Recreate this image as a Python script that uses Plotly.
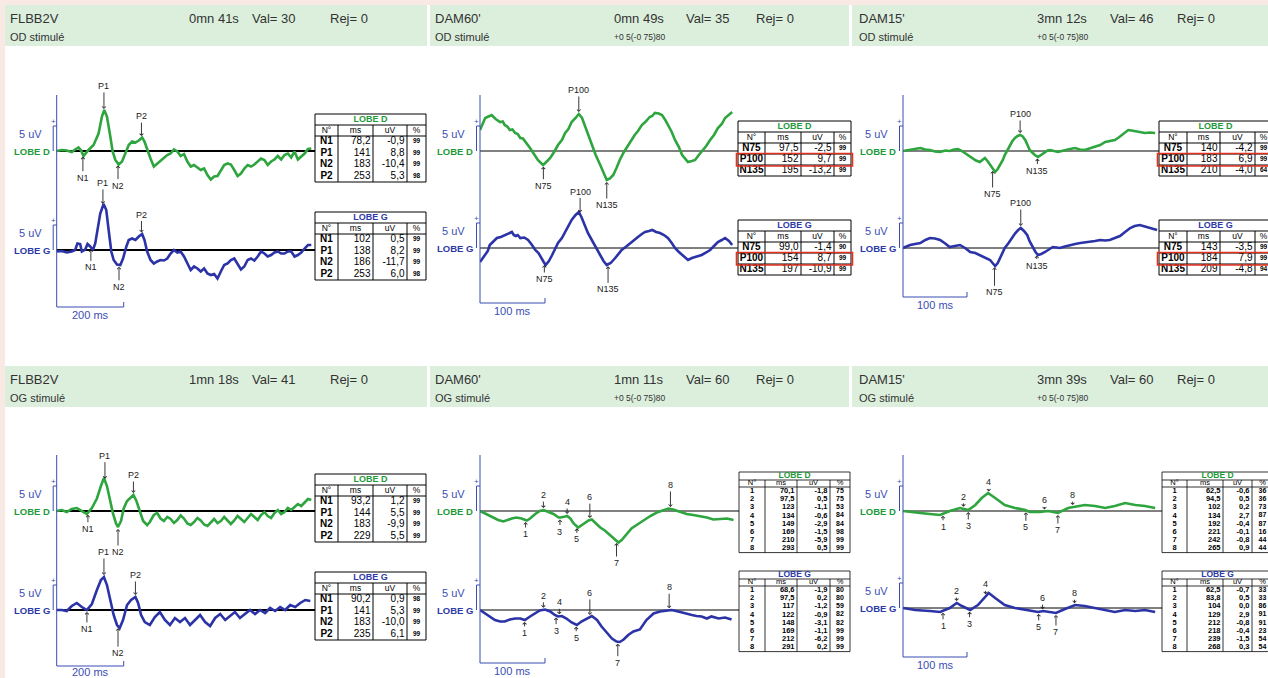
import numpy as np
import plotly.graph_objects as go

FIG_W, FIG_H = 1268, 678

# ---------------- DATA: panel headers ----------------
hdr_protocol = ["FLBB2V", "DAM60'", "DAM15'", "FLBB2V", "DAM60'", "DAM15'"]
hdr_duration = ["0mn 41s", "0mn 49s", "3mn 12s", "1mn 18s", "1mn 11s", "3mn 39s"]
hdr_val = [30, 35, 46, 41, 60, 60]
hdr_rej = [0, 0, 0, 0, 0, 0]
hdr_eye = ["OD stimulé", "OD stimulé", "OD stimulé", "OG stimulé", "OG stimulé", "OG stimulé"]
hdr_code = ["", "+0 5(-0 75)80", "+0 5(-0 75)80", "", "+0 5(-0 75)80", "+0 5(-0 75)80"]
time_scale_ms = [200, 100, 100, 200, 100, 100]
amp_scale_uv = 5

# ---------------- DATA: waveforms (latency ms, amplitude uV) ----------------
p1_d = [(0,0),(15,0.2),(30,0.1),(45,-0.2),(55,0.3),(65,0.7),(72,0.2),(80,-1.0),(95,0.2),(110,1.2),(125,3.5),(135,6.9),(142,8.2),(150,6.9),(160,2.9),(167,-0.1),(175,-1.8),(185,-2.7),(195,-2.1),(205,-0.5),(215,1.2),(225,1.9),(235,1.7),(245,2.1),(255,2.7),(262,1.9),(270,0.2),(280,-1.5),(290,-3.1),(300,-2.5),(310,-1.8),(320,-1.3),(330,-0.8),(340,-0.5),(350,0.3),(360,-0.1),(370,-1.0),(380,-0.6),(390,-2.1),(400,-3.1),(410,-2.8),(420,-3.3),(430,-3.8),(440,-3.5),(450,-4.8),(460,-5.7),(470,-5.1),(480,-5.0),(490,-3.8),(500,-2.8),(510,-2.5),(520,-2.7),(530,-3.8),(540,-5.0),(550,-4.5),(560,-3.5),(570,-2.8),(580,-3.1),(590,-2.7),(600,-2.1),(610,-1.5),(620,-1.8),(630,-2.8),(640,-2.1),(650,-1.7),(660,-1.0),(670,-1.7),(680,-0.8),(690,-0.5),(700,-1.3),(710,-0.1),(720,-1.7),(730,-1.1),(740,-0.5),(750,0.4),(760,0.5)]
p1_g = [(0,-0.3),(15,-0.2),(30,-0.5),(45,-0.3),(55,0),(62,1.3),(70,1.2),(75,-0.3),(85,0.1),(92,1.2),(100,0.7),(108,0),(115,1.3),(122,4.0),(130,7.3),(140,9.2),(148,8.0),(155,4.0),(163,-0.3),(170,-2.0),(180,-2.9),(190,-3.0),(198,-1.7),(208,0.7),(215,2.0),(225,2.3),(235,2.0),(245,2.7),(255,3.2),(262,2.0),(270,-0.3),(280,-2.0),(290,-2.7),(300,-2.3),(310,-2.0),(320,-2.1),(330,-1.7),(340,-0.7),(350,0),(360,-0.5),(370,-0.3),(380,-1.3),(390,-2.7),(400,-4.0),(410,-3.3),(420,-3.7),(430,-4.3),(440,-3.7),(450,-4.7),(460,-5.0),(470,-4.8),(480,-5.7),(490,-4.3),(500,-3.0),(510,-2.7),(520,-2.0),(530,-1.7),(540,-2.7),(550,-3.9),(560,-3.3),(570,-2.0),(580,-1.7),(590,-2.1),(600,-1.3),(610,-0.3),(620,-0.7),(630,-1.3),(640,-1.0),(650,-0.5),(660,-0.3),(670,-0.7),(680,-0.7),(690,-0.3),(700,-0.3),(710,-1.3),(720,-1.0),(730,-0.5),(740,0.3),(750,1.0),(760,1.0)]
p2_d = [(0,4.2),(4,5.6),(8,6.6),(13,6.9),(18,7.2),(24,6.4),(31,5.8),(35,5.9),(38,5.2),(42,4.9),(46,4.2),(50,4.3),(54,3.6),(58,3.4),(62,2.6),(66,2.5),(70,1.8),(74,1.3),(77,0.6),(83,-0.6),(89,-1.8),(93,-2.3),(97,-2.8),(102,-2.2),(108,-1.4),(114,-0.2),(120,1.2),(126,2.2),(131,3.6),(136,4.4),(141,5.8),(147,6.6),(152,7.4),(157,6.6),(161,5.2),(166,3.4),(172,1.2),(178,-0.8),(185,-2.8),(190,-4.4),(195,-5.8),(200,-5.5),(205,-4.8),(210,-3.4),(215,-1.8),(221,-0.3),(228,1.2),(233,2.1),(238,3.2),(243,4.0),(249,5.2),(255,5.9),(261,6.8),(265,7.0),(269,7.6),(275,7.5),(280,7.2),(285,6.2),(289,5.2),(295,3.8),(300,2.2),(306,0.8),(311,-0.8),(316,-1.6),(320,-2.2),(326,-2.0),(331,-1.8),(336,-0.9),(341,-0.2),(348,1.0),(354,2.2),(360,3.2),(366,4.6),(372,5.4),(377,6.6),(383,7.2),(388,7.8)]
p2_g = [(0,-2.8),(4,-2.0),(8,-1.4),(12,-0.6),(15,0.6),(20,1.2),(26,2.0),(32,2.2),(38,2.6),(44,2.9),(49,3.2),(52,2.6),(55,2.4),(58,2.6),(62,2.0),(68,2.1),(74,1.6),(80,0.6),(85,-0.4),(90,-1.0),(94,-2.0),(98,-2.8),(101,-3.4),(106,-2.6),(111,-1.4),(116,-0.2),(120,1.0),(126,2.0),(131,3.2),(136,4.2),(141,5.6),(147,6.6),(152,7.2),(156,6.2),(161,4.6),(166,3.0),(172,1.6),(178,0.2),(185,-1.4),(190,-2.6),(195,-3.4),(201,-3.0),(208,-2.0),(213,-1.2),(218,-0.4),(225,0.3),(231,1.0),(237,1.6),(243,2.2),(249,2.8),(254,3.2),(260,3.4),(265,3.6),(271,3.2),(277,3.0),(283,2.6),(289,2.0),(295,1.0),(300,0),(306,-0.8),(311,-1.4),(316,-2.0),(320,-2.4),(326,-2.0),(331,-1.8),(336,-1.7),(341,-1.4),(348,-0.9),(354,-0.4),(360,0.4),(366,1.2),(372,1.6),(377,2.0),(383,1.4),(388,0.6)]
p3_d = [(0,0),(11,0.2),(19,0.4),(27,0.6),(35,0.3),(42,0.2),(50,-0.1),(58,-0.2),(66,0.1),(73,0),(80,0.3),(86,0.4),(92,0.0),(97,-0.4),(103,-0.9),(108,-1.4),(114,-1.9),(120,-2.2),(124,-1.8),(128,-1.4),(132,-2.0),(136,-2.8),(140,-3.6),(144,-4.2),(148,-3.6),(152,-2.8),(156,-1.8),(159,-0.8),(163,0.2),(167,1.2),(171,2.0),(175,2.6),(179,3.0),(183,3.2),(187,2.9),(191,2.2),(195,1.2),(198,0.2),(202,-0.3),(206,-0.8),(211,-1.2),(216,-0.8),(222,-0.2),(226,0.1),(230,0.2),(236,0.0),(242,-0.2),(248,0.0),(253,0.2),(261,0.4),(269,0.6),(276,0.3),(284,0.2),(292,0.5),(300,0.8),(308,1.2),(316,1.8),(323,2.0),(331,2.2),(337,2.7),(342,3.2),(347,3.8),(352,4.2),(357,4.1),(363,4.0),(370,3.8),(378,3.6),(386,3.7),(394,3.6)]
p3_g = [(0,0),(6,0.3),(11,0.6),(19,0.8),(27,1.0),(35,1.6),(42,2.0),(50,1.9),(58,1.6),(66,0.9),(73,0.2),(81,0.4),(89,0.6),(97,0.0),(105,-0.8),(113,-1.0),(120,-1.4),(128,-1.8),(136,-2.4),(140,-3.0),(144,-3.6),(148,-3.0),(152,-2.0),(156,-1.0),(159,0),(165,1.0),(170,2.0),(175,2.9),(180,3.6),(184,4.0),(189,3.4),(194,2.6),(198,1.3),(203,0),(207,-0.8),(211,-1.4),(216,-1.2),(222,-0.8),(228,-0.3),(234,0.2),(240,0.1),(245,0),(253,0.3),(261,0.6),(269,0.8),(277,1.0),(285,1.1),(292,1.2),(300,1.4),(308,1.6),(316,1.5),(323,1.6),(331,2.0),(339,2.4),(347,3.2),(355,4.0),(362,4.4),(370,4.6),(378,4.3),(386,4.0),(397,3.6)]
p4_d = [(0,0),(15,0.2),(30,-0.2),(45,0.4),(60,0.6),(75,0),(90,-0.6),(105,0.6),(120,2.5),(132,5.0),(141,6.6),(150,5.0),(160,2.0),(168,-0.5),(177,-2.5),(183,-3.2),(192,-2.0),(200,0.5),(210,2.0),(220,2.6),(229,3.2),(238,2.0),(250,-0.5),(258,-2.0),(270,-2.8),(278,-2.2),(290,-0.8),(300,-0.4),(310,-1.5),(320,-2.0),(330,-1.2),(340,-1.6),(350,-2.4),(360,-1.8),(370,-0.9),(380,-1.5),(390,-2.5),(400,-2.8),(410,-2.2),(420,-1.4),(430,-1.9),(440,-2.7),(450,-3.0),(460,-2.2),(470,-1.6),(480,-2.4),(490,-2.0),(500,-1.2),(510,-1.8),(520,-2.6),(530,-1.9),(540,-1.0),(550,-1.6),(560,-2.2),(570,-1.4),(580,-0.6),(590,-1.2),(600,-1.8),(610,-0.8),(620,-0.2),(630,-1.0),(640,-1.4),(650,-0.4),(660,0.2),(670,-0.6),(680,-0.2),(690,0.6),(700,0.2),(710,0.8),(720,1.4),(730,1.0),(740,1.8),(750,2.4),(760,2.2)]
p4_g = [(0,0),(15,0),(30,-0.2),(45,0.8),(60,1.4),(75,0.6),(90,0),(105,1.2),(120,4.0),(132,6.0),(141,6.6),(150,5.0),(160,2.0),(170,-1.0),(180,-3.0),(188,-3.6),(198,-2.0),(210,1.0),(222,2.0),(235,2.6),(243,1.4),(252,-1.0),(263,-2.4),(278,-3.0),(293,-1.4),(308,-0.4),(323,-2.0),(338,-3.0),(353,-1.6),(368,-2.4),(383,-1.6),(398,-3.0),(413,-2.0),(428,-1.0),(443,-2.4),(458,-3.2),(473,-1.6),(488,-0.8),(503,-2.0),(517,-1.2),(532,-0.4),(547,-1.6),(562,-0.8),(577,0),(592,-0.8),(607,0),(622,-0.6),(637,0.4),(652,-0.2),(667,0.6),(682,0),(697,1.0),(712,0.6),(727,1.4),(742,2.0),(757,1.8)]
p5_d = [(0,0),(5,-0.3),(13,-0.8),(21,-1.3),(28,-1.8),(36,-2.1),(42,-1.8),(49,-1.5),(56,-1.3),(64,-1.5),(72,-1.9),(77,-1.5),(85,-0.6),(92,0),(98,0.2),(105,-0.1),(113,-0.6),(121,-1.3),(124,-1.3),(131,-1.1),(134,-1.0),(139,-1.5),(144,-2.5),(151,-3.3),(159,-2.6),(167,-1.9),(172,-1.7),(177,-2.3),(185,-3.3),(192,-3.9),(200,-4.8),(208,-5.8),(213,-6.3),(218,-5.8),(226,-4.5),(233,-3.5),(241,-2.8),(251,-1.9),(262,-1.0),(272,-0.3),(282,0.2),(290,0.5),(297,0.3),(308,-0.1),(318,-0.6),(328,-0.8),(339,-1.0),(349,-1.3),(359,-1.7),(369,-1.6),(380,-1.5),(390,-1.8)]
p5_g = [(0,0),(8,-0.7),(15,-1.3),(23,-2.0),(31,-2.3),(38,-2.3),(46,-1.9),(54,-1.7),(62,-1.7),(69,-2.0),(77,-1.3),(85,-0.7),(92,-0.1),(100,0.1),(108,-0.3),(115,-1.0),(120,-1.3),(126,-1.2),(133,-1.7),(141,-2.5),(149,-3.0),(156,-2.3),(164,-1.7),(172,-1.2),(180,-2.0),(187,-3.3),(195,-4.5),(203,-5.7),(210,-6.3),(215,-6.4),(221,-5.9),(228,-5.0),(236,-4.3),(246,-3.9),(256,-2.0),(267,-0.7),(277,-0.3),(287,-0.1),(295,0),(305,-0.3),(315,-0.7),(326,-1.0),(333,-1.2),(341,-1.3),(349,-1.7),(356,-1.3),(367,-1.7),(377,-1.5),(387,-1.9)]
p6_d = [(0,0),(11,-0.2),(27,-0.4),(42,-0.6),(58,-0.8),(73,0),(89,0.6),(102,0.2),(113,1.2),(123,2.6),(133,3.6),(144,2.6),(159,1.2),(175,0.6),(191,0.2),(198,-0.2),(214,-0.2),(227,0),(242,-0.4),(258,0.6),(266,0.8),(284,1.2),(300,1.0),(316,0.6),(331,1.0),(347,1.6),(363,1.2),(378,1.0),(394,0.6)]
p6_g = [(0,0),(19,-0.4),(42,-0.6),(58,-0.8),(73,0),(84,1.0),(92,0.4),(105,-0.4),(117,0.6),(128,2.2),(134,3.0),(144,2.0),(159,0.6),(175,0),(191,-0.4),(211,-0.8),(219,-0.6),(239,-1.0),(253,-0.2),(269,0.6),(284,0.4),(300,0),(316,-0.4),(331,-0.8),(347,-0.4),(363,-0.6),(378,-0.4),(394,-0.8)]

# ---------------- DATA: result tables ----------------
p1_d_peak = ["N1", "P1", "N2", "P2"]; p1_d_ms = [78.2, 141, 183, 253]; p1_d_uv = [-0.9, 8.8, -10.4, 5.3]; p1_d_pct = [99, 99, 99, 98]
p1_g_peak = ["N1", "P1", "N2", "P2"]; p1_g_ms = [102, 138, 186, 253]; p1_g_uv = [0.5, 8.2, -11.7, 6.0]; p1_g_pct = [99, 99, 99, 98]
p2_d_peak = ["N75", "P100", "N135"]; p2_d_ms = [97.5, 152, 195]; p2_d_uv = [-2.5, 9.7, -13.2]; p2_d_pct = [99, 99, 99]
p2_g_peak = ["N75", "P100", "N135"]; p2_g_ms = [99.0, 154, 197]; p2_g_uv = [-1.4, 8.7, -10.9]; p2_g_pct = [90, 99, 99]
p3_d_peak = ["N75", "P100", "N135"]; p3_d_ms = [140, 183, 210]; p3_d_uv = [-4.2, 6.9, -4.0]; p3_d_pct = [99, 99, 64]
p3_g_peak = ["N75", "P100", "N135"]; p3_g_ms = [143, 184, 209]; p3_g_uv = [-3.5, 7.9, -4.8]; p3_g_pct = [99, 99, 94]
p4_d_peak = ["N1", "P1", "N2", "P2"]; p4_d_ms = [93.2, 144, 183, 229]; p4_d_uv = [1.2, 5.5, -9.9, 5.5]; p4_d_pct = [99, 99, 99, 99]
p4_g_peak = ["N1", "P1", "N2", "P2"]; p4_g_ms = [90.2, 141, 183, 235]; p4_g_uv = [0.9, 5.3, -10.0, 6.1]; p4_g_pct = [98, 99, 99, 99]
p5_d_peak = ["1", "2", "3", "4", "5", "6", "7", "8"]; p5_d_ms = [70.1, 97.5, 123, 134, 149, 169, 210, 293]; p5_d_uv = [-1.8, 0.5, -1.1, -0.6, -2.9, -1.5, -5.9, 0.5]; p5_d_pct = [75, 75, 53, 84, 84, 98, 99, 99]
p5_g_peak = ["1", "2", "3", "4", "5", "6", "7", "8"]; p5_g_ms = [68.6, 97.5, 117, 122, 148, 169, 212, 291]; p5_g_uv = [-1.9, 0.2, -1.2, -0.9, -3.1, -1.1, -6.2, 0.2]; p5_g_pct = [80, 80, 59, 82, 82, 99, 99, 99]
p6_d_peak = ["1", "2", "3", "4", "5", "6", "7", "8"]; p6_d_ms = [62.5, 94.5, 102, 134, 192, 221, 242, 265]; p6_d_uv = [-0.6, 0.5, 0.2, 2.7, -0.4, -0.1, -0.8, 0.9]; p6_d_pct = [36, 36, 73, 87, 87, 16, 44, 44]
p6_g_peak = ["1", "2", "3", "4", "5", "6", "7", "8"]; p6_g_ms = [62.5, 83.8, 104, 129, 212, 218, 239, 268]; p6_g_uv = [-0.7, 0.5, 0.0, 2.9, -0.8, -0.4, -1.5, 0.3]; p6_g_pct = [33, 33, 86, 91, 91, 23, 54, 54]

waves = [(p1_d, p1_g), (p2_d, p2_g), (p3_d, p3_g), (p4_d, p4_g), (p5_d, p5_g), (p6_d, p6_g)]
tables = [
    ((p1_d_peak, p1_d_ms, p1_d_uv, p1_d_pct), (p1_g_peak, p1_g_ms, p1_g_uv, p1_g_pct)),
    ((p2_d_peak, p2_d_ms, p2_d_uv, p2_d_pct), (p2_g_peak, p2_g_ms, p2_g_uv, p2_g_pct)),
    ((p3_d_peak, p3_d_ms, p3_d_uv, p3_d_pct), (p3_g_peak, p3_g_ms, p3_g_uv, p3_g_pct)),
    ((p4_d_peak, p4_d_ms, p4_d_uv, p4_d_pct), (p4_g_peak, p4_g_ms, p4_g_uv, p4_g_pct)),
    ((p5_d_peak, p5_d_ms, p5_d_uv, p5_d_pct), (p5_g_peak, p5_g_ms, p5_g_uv, p5_g_pct)),
    ((p6_d_peak, p6_d_ms, p6_d_uv, p6_d_pct), (p6_g_peak, p6_g_ms, p6_g_uv, p6_g_pct)),
]

# ---------------- STYLE / LAYOUT ----------------
GREEN = "#2ea53e"
BLUE = "#2b33a6"
AXIS_BLUE = "#3b4db3"
LBL_GREEN = "#1f9a3a"
LBL_BLUE = "#2c3aa8"
PINK = "#f8e9e4"
HDR_GREEN = "#dcefdd"
FONT = "Liberation Sans, Arial, sans-serif"
NARROW = "Liberation Sans Narrow, Arial Narrow, Liberation Sans, Arial, sans-serif"
PX_PER_UV = 5.0

col_x0 = [56.7, 480.0, 903.0]
col_pxpm = [0.335, 0.65, 0.64]
baselines = [(151, 250), (151, 248), (151, 248), (511, 610), (511, 610), (511, 608)]
axis_top = [95, 95, 95, 455, 455, 455]
bar_py = [307, 303, 297, 666, 663, 657]
base_w = [2.2, 1, 1, 2.2, 1, 1]

tab_x = [315, 738, 1159, 315, 739, 1162]
tab_w = [111, 113, 113, 111, 111, 111]
tab_cols = [[0, 23, 58, 92, 111], [0, 27, 63, 96, 113], [0, 28, 61, 96, 113],
            [0, 23, 58, 92, 111], [0, 26, 58, 91, 111], [0, 25, 61, 90, 111]]
tab_tops = [(114, 212), (121, 220), (121, 220), (474, 572), (472, 571), (472, 571)]
tab_h = [(11, 11, 11.5), (11, 11, 11), (11, 11, 11), (11, 11, 11.5), (8, 7, 8.2), (8, 7, 8.2)]
tab_rowlines = [False, True, True, False, False, False]
tab_small = [False, False, False, False, True, True]

label_ay = [
    ([23, -25, 22, -22], [20, -23, 22, -20]),
    ([21, -24, 25], [16, -23, 25]),
    ([25, -21, 14], [27, -25, 12]),
    ([16, -25, 25, -20], [19, -25, 27, -22]),
    ([14, -15, 14, -14, 13, -23, 22, -24], [13, -14, 15, -14, 13, -24, 21, -23]),
    ([13, -12, 16, -11, 17, -11, 17, -12], [15, -12, 14, -12, 15, -13, 19, -12]),
]

hdr_cols_px = [(8, 187, 250, 328), (433, 612, 684, 754), (857, 1035, 1108, 1175)]
hdr_bar_x = [(5, 427), (430, 849), (852, 1268)]

fig = go.Figure()
shapes, annotations = [], []
axes_layout = {}
cnt = {"x": 0, "y": 0}


def clamp(v):
    return max(0.0, min(1.0, v))


def new_axis(kind, domain, rng):
    cnt[kind] += 1
    n = cnt[kind]
    key = f"{kind}axis" if n == 1 else f"{kind}axis{n}"
    axes_layout[key] = dict(domain=[clamp(domain[0]), clamp(domain[1])], range=rng, visible=False,
                            fixedrange=True, anchor="free", position=0, showgrid=False, zeroline=False)
    return kind if n == 1 else f"{kind}{n}"


def PX(px):
    return px / FIG_W


def PY(py):
    return 1 - py / FIG_H


def fmt_ms(v):
    return (f"{v:.1f}" if v < 100 else f"{v:.0f}").replace(".", ",")


def fmt_uv(v):
    return f"{v:.1f}".replace(".", ",")


# background frame
shapes.append(dict(type="rect", xref="paper", yref="paper", x0=0, x1=PX(5), y0=0, y1=1,
                   fillcolor=PINK, line=dict(width=0), layer="below"))
shapes.append(dict(type="rect", xref="paper", yref="paper", x0=0, x1=1, y0=PY(5), y1=1,
                   fillcolor=PINK, line=dict(width=0), layer="below"))

# headers
for i in range(6):
    c, r = i % 3, i // 3
    off = 361 * r
    bx0, bx1 = hdr_bar_x[c]
    shapes.append(dict(type="rect", xref="paper", yref="paper", x0=PX(bx0), x1=PX(bx1),
                       y0=PY(46 + off), y1=PY(5 + off), fillcolor=HDR_GREEN, line=dict(width=0), layer="below"))
    xs = hdr_cols_px[c]
    texts1 = [hdr_protocol[i], hdr_duration[i], f"Val= {hdr_val[i]}", f"Rej= {hdr_rej[i]}"]
    for xp, tx in zip(xs, texts1):
        annotations.append(dict(xref="paper", yref="paper", x=PX(xp), y=PY(18 + off), text=tx, showarrow=False,
                                xanchor="left", yanchor="middle", font=dict(family=FONT, size=13, color="#333")))
    annotations.append(dict(xref="paper", yref="paper", x=PX(xs[0]), y=PY(37 + off), text=hdr_eye[i], showarrow=False,
                            xanchor="left", yanchor="middle", font=dict(family=FONT, size=11, color="#333")))
    if hdr_code[i]:
        annotations.append(dict(xref="paper", yref="paper", x=PX(xs[1]), y=PY(37 + off), text=hdr_code[i],
                                showarrow=False, xanchor="left", yanchor="middle",
                                font=dict(family=FONT, size=8.5, color="#333")))

# waveform panels
for i in range(6):
    c, r = i % 3, i // 3
    roff = 360 * r
    x0 = col_x0[c]
    pxpm = col_pxpm[c]
    tabx = tab_x[i]
    xr = new_axis("x", [PX(x0), PX(tabx)], [0, (tabx - x0) / pxpm])
    bD, bG = baselines[i]
    top = roff + 58
    mid = bD + 0.45 * (bG - bD)
    bot = min(roff + 338, FIG_H)
    yD = new_axis("y", [PY(mid), PY(top)], [-(mid - bD) / PX_PER_UV, (bD - top) / PX_PER_UV])
    yG = new_axis("y", [PY(bot), PY(mid)], [-(bot - bG) / PX_PER_UV, (bG - mid) / PX_PER_UV])

    # vertical axis and time scale bar
    shapes.append(dict(type="line", xref="paper", yref="paper", x0=PX(x0), x1=PX(x0),
                       y0=PY(axis_top[i]), y1=PY(bar_py[i]), line=dict(color=AXIS_BLUE, width=1)))
    sc = time_scale_ms[i]
    shapes.append(dict(type="line", xref=xr, yref="paper", x0=0, x1=sc, y0=PY(bar_py[i]), y1=PY(bar_py[i]),
                       line=dict(color=AXIS_BLUE, width=1)))
    shapes.append(dict(type="line", xref=xr, yref="paper", x0=sc, x1=sc, y0=PY(bar_py[i]), y1=PY(bar_py[i] - 5),
                       line=dict(color=AXIS_BLUE, width=1)))
    txt_y = min(bar_py[i] + 8, FIG_H - 6)
    annotations.append(dict(xref=xr, yref="paper", x=sc / 2, y=PY(txt_y), text=f"{sc} ms", showarrow=False,
                            xanchor="center", yanchor="middle", font=dict(family=FONT, size=11, color=AXIS_BLUE)))

    for k, (pts, yr, col, lcol, lobe) in enumerate([(waves[i][0], yD, GREEN, LBL_GREEN, "LOBE D"),
                                                     (waves[i][1], yG, BLUE, LBL_BLUE, "LOBE G")]):
        t = [p[0] for p in pts]
        v = [p[1] for p in pts]
        shapes.append(dict(type="line", xref=f"{xr} domain", yref=yr, x0=0, x1=1, y0=0, y1=0,
                           line=dict(color="black", width=base_w[i]), layer="below"))
        fig.add_trace(go.Scatter(x=t, y=v, xaxis=xr, yaxis=yr, mode="lines",
                                 line=dict(color=col, width=2.6), hoverinfo="skip", showlegend=False))
        # amplitude bracket
        bx = PX(x0 - 3.5)
        shapes.append(dict(type="line", xref="paper", yref=yr, x0=bx, x1=bx, y0=0, y1=amp_scale_uv,
                           line=dict(color=AXIS_BLUE, width=1)))
        shapes.append(dict(type="line", xref="paper", yref=yr, x0=bx, x1=PX(x0), y0=amp_scale_uv, y1=amp_scale_uv,
                           line=dict(color=AXIS_BLUE, width=1)))
        annotations.append(dict(xref="paper", yref=yr, x=bx, y=amp_scale_uv, yshift=5, text="+", showarrow=False,
                                xanchor="center", yanchor="middle", font=dict(family=FONT, size=8, color=AXIS_BLUE)))
        annotations.append(dict(xref="paper", yref=yr, x=PX(x0 - 13), y=amp_scale_uv * 0.7, text=f"{amp_scale_uv} uV",
                                showarrow=False, xanchor="right", yanchor="middle",
                                font=dict(family=FONT, size=11, color=AXIS_BLUE)))
        annotations.append(dict(xref="paper", yref=yr, x=PX(x0 - 5), y=0, text=f"<b>{lobe}</b>", showarrow=False,
                                xanchor="right", yanchor="middle", font=dict(family=NARROW, size=9.5, color=lcol)))
        # peak markers from the table latencies
        peaks, mss = tables[i][k][0], tables[i][k][1]
        for name, ms, ay in zip(peaks, mss, label_ay[i][k]):
            yv = float(np.interp(ms, t, v))
            annotations.append(dict(xref=xr, yref=yr, x=ms, y=yv, text=name, showarrow=True, ax=0, ay=ay,
                                    arrowhead=4, arrowsize=0.8, arrowwidth=0.9, arrowcolor="#222", standoff=2,
                                    font=dict(family=FONT, size=9, color="#222")))

# tables
for i in range(6):
    for k, (title, tcol) in enumerate([("LOBE D", LBL_GREEN), ("LOBE G", LBL_BLUE)]):
        peaks, mss, uvs, pcts = tables[i][k]
        tx, ty = tab_x[i], tab_tops[i][k]
        W = tab_w[i]
        cb = tab_cols[i]
        th, hh, rh = tab_h[i]
        n = len(peaks)
        Ht = th + hh + n * rh
        pad = 3
        xhi = min(tx + W + pad, FIG_W)
        xr = new_axis("x", [PX(tx - pad), PX(xhi)], [-pad, xhi - tx])
        yr = new_axis("y", [PY(ty + Ht + pad), PY(ty - pad)], [Ht + pad, -pad])
        small = tab_small[i]
        lw = 0.8 if small else 1

        def L(**kw):
            shapes.append(dict(type="line", xref=xr, yref=yr, line=dict(color="black", width=lw), **kw))

        shapes.append(dict(type="rect", xref=xr, yref=yr, x0=0, x1=W, y0=0, y1=Ht,
                           line=dict(color="black", width=lw), fillcolor="white", layer="below"))
        L(x0=0, x1=W, y0=th, y1=th)
        L(x0=0, x1=W, y0=th + hh, y1=th + hh)
        for cx in cb[1:-1]:
            L(x0=cx, x1=cx, y0=th, y1=Ht)
        if tab_rowlines[i]:
            for j in range(1, n):
                yy = th + hh + j * rh
                L(x0=0, x1=W, y0=yy, y1=yy)
        for j, pk in enumerate(peaks):
            if pk == "P100":
                y0 = th + hh + j * rh
                shapes.append(dict(type="rect", xref=xr, yref=yr, x0=-1.5, x1=W + 1.5, y0=y0 - 0.5, y1=y0 + rh + 1,
                                   line=dict(color="#e2321f", width=1.6)))

        xs, ys, txt, pos, sizes, cols = [], [], [], [], [], []
        if small:
            fam = NARROW
            fs_title, fs_head, fs_lab, fs_num, fs_pct = 8.5, 7.5, 7.5, 7.5, 7
        else:
            fam = FONT
            fs_title, fs_head, fs_lab, fs_num, fs_pct = 9, 8.5, 10, 10, 6.5
        xs.append(W / 2); ys.append(th / 2); txt.append(f"<b>{title}</b>"); pos.append("middle center")
        sizes.append(fs_title); cols.append(tcol)
        for j, hd in enumerate(["N°", "ms", "uV", "%"]):
            xs.append((cb[j] + cb[j + 1]) / 2); ys.append(th + hh / 2); txt.append(hd); pos.append("middle center")
            sizes.append(fs_head); cols.append("black")
        for j in range(n):
            yc = th + hh + (j + 0.5) * rh
            num_b = (lambda s: f"<b>{s}</b>") if small else (lambda s: s)
            xs += [(cb[0] + cb[1]) / 2, cb[2] - 2.5, cb[3] - 2.5, (cb[3] + cb[4]) / 2]
            ys += [yc] * 4
            txt += [f"<b>{peaks[j]}</b>", num_b(fmt_ms(mss[j])), num_b(fmt_uv(uvs[j])), f"<b>{pcts[j]}</b>"]
            pos += ["middle center", "middle left", "middle left", "middle center"]
            sizes += [fs_lab, fs_num, fs_num, fs_pct]
            cols += ["black"] * 4
        fig.add_trace(go.Scatter(x=xs, y=ys, xaxis=xr, yaxis=yr, mode="text", text=txt, textposition=pos,
                                 textfont=dict(family=fam, size=sizes, color=cols), hoverinfo="skip",
                                 showlegend=False, cliponaxis=True))

fig.update_layout(
    width=FIG_W, height=FIG_H, autosize=False,
    margin=dict(l=0, r=0, t=0, b=0),
    paper_bgcolor="white", plot_bgcolor="rgba(0,0,0,0)",
    showlegend=False, hovermode=False,
    shapes=shapes, annotations=annotations,
    **axes_layout,
)
fig.write_html("out.html",
               config={"displayModeBar": False, "staticPlot": True},
               post_script="document.body.style.margin='0';document.body.style.padding='0';"
                           "document.documentElement.style.overflow='hidden';")
